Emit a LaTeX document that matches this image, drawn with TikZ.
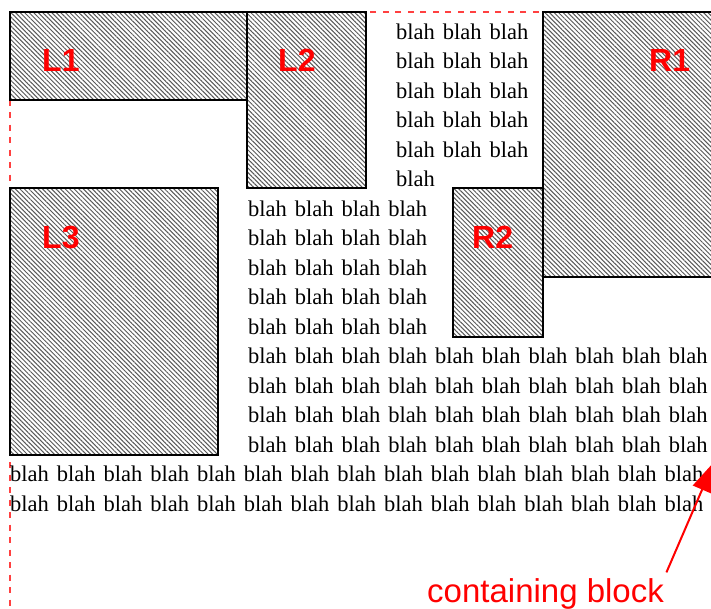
\documentclass[tikz,border=0pt]{standalone}
\usepackage{fontspec}
\setmainfont{Liberation Serif}
\newfontfamily\helv{Liberation Sans}
\usetikzlibrary{arrows.meta, patterns.meta, positioning}

\begin{document}
\begin{tikzpicture}[x=1pt, y=-1pt,
    floatbox/.style = {rectangle, draw=black, line width=1.4pt, preaction={fill=white}, pattern={Lines[angle=-45, distance=3.2pt, line width=1pt]}, pattern color=black!65, anchor=north west, inner sep=0pt, outer sep=0pt},
    floatlabel/.style = {anchor=base west, inner sep=0pt, text=red, font=\helv\bfseries\fontsize{32}{32}\selectfont},
    blahtext/.style = {anchor=base west, inner sep=0pt, font=\fontsize{22.5}{27}\selectfont, execute at begin node={\spaceskip=8pt\relax}},
    cbtext/.style = {anchor=base west, inner sep=0pt, text=red, font=\helv\fontsize{33}{33}\selectfont},
    cbline/.style = {draw=red!75, dash pattern=on 6pt off 6.5pt, line width=1.1pt},
    arrow/.style = {draw=red, line width=2pt, -{Triangle[length=30pt, width=20pt]}, shorten <=6pt}
]

\useasboundingbox (0,0) rectangle (711,608);
\clip (0,0) rectangle (711,608);

% containing block (dashed, runs out of the picture)
\draw [cbline] (10,12) rectangle (740,640);

% Floats: left side
\node (L1) [floatbox, minimum width=237pt, minimum height=88pt] at (10,12) {};
\node (L2) [floatbox, minimum width=119pt, minimum height=176pt] at (L1.north east) {};
\node (L3) [floatbox, minimum width=208pt, minimum height=267pt] at (L1.west |- L2.south) {};

% Floats: right side
\node (R1) [floatbox, minimum width=200pt, minimum height=265pt] at (543,12) {};
\node (R2) [floatbox, anchor=north east, minimum width=90pt, minimum height=149pt] at (R1.west |- L2.south) {};

\node (L1lbl) [floatlabel] at ([shift={(32,59)}]L1.north west) {L1};
\node (L2lbl) [floatlabel] at ([shift={(31,59)}]L2.north west) {L2};
\node (L3lbl) [floatlabel] at ([shift={(32,60)}]L3.north west) {L3};
\node (R1lbl) [floatlabel] at ([shift={(106,59)}]R1.north west) {R1};
\node (R2lbl) [floatlabel] at ([shift={(19,60)}]R2.north west) {R2};

% text flowing round the floats
\foreach \k in {0,...,4}
    \node (row\k) [blahtext] at (396, {39.3+29.5*\k}) {blah blah blah};
\node (row5) [blahtext] at (396, 186.8) {blah};
\foreach \k in {6,...,10}
    \node (row\k) [blahtext] at (248, {39.3+29.5*\k}) {blah blah blah blah};
\foreach \k in {11,...,14}
    \node (row\k) [blahtext] at (248, {39.3+29.5*\k}) {blah blah blah blah blah blah blah blah blah blah};
\foreach \k in {15,16}
    \node (row\k) [blahtext] at (10, {39.3+29.5*\k}) {blah blah blah blah blah blah blah blah blah blah blah blah blah blah blah};

% callout
\coordinate (cbedge) at (714,462);
\node (cblabel) [cbtext] at (427,602) {containing block};
\draw [arrow] (cblabel.north east) -- (cbedge);

\end{tikzpicture}
\end{document}
